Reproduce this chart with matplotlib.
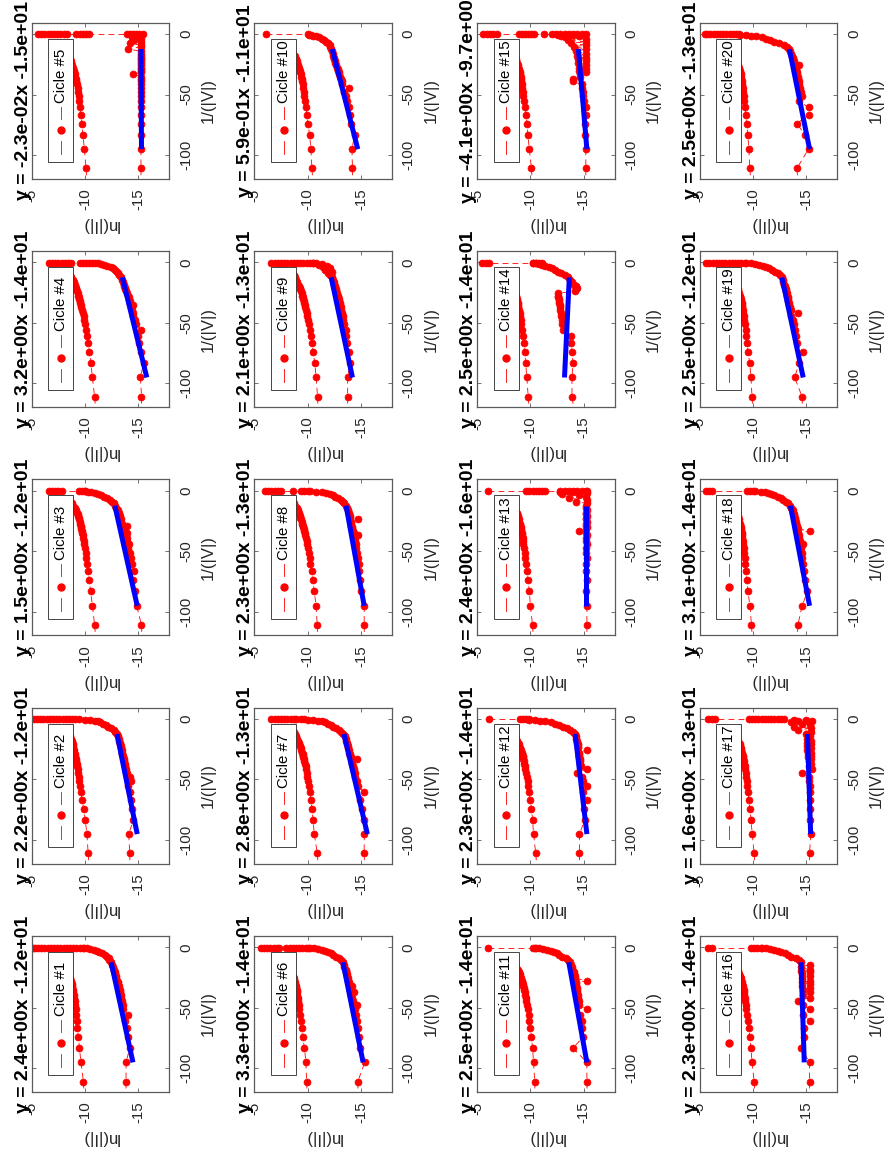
import matplotlib
matplotlib.use('Agg')
import matplotlib.pyplot as plt
from matplotlib.patches import Rectangle
from matplotlib.lines import Line2D

plt.rcParams['font.family'] = ['Liberation Sans', 'DejaVu Sans']
plt.rcParams['axes.unicode_minus'] = False

# ---------------- data ----------------
# x of the original plot: 1/(|V|)   (shared sweep grid)
X_GRID = [-133.3, -111.1, -95.2, -83.3, -74.1, -66.7, -60.6, -55.6, -51.3, -47.6, -44.4,
          -41.7, -39.2, -37.0, -35.1, -33.3, -31.7, -30.3, -29.0, -27.8, -25.6, -23.8,
          -22.2, -20.8, -19.6, -18.5, -16.4, -14.3, -12.3, -10.5]
X_KNEE = [-9.1, -7.7, -6.3, -5.0, -3.8, -2.8, -2.0, -1.4, -0.9, -0.6]
X_TOP = -0.3
FIT_X = [-95.2, -12.4]

TITLES = ["y = 2.4e+00x -1.2e+01", "y = 2.2e+00x -1.2e+01", "y = 1.5e+00x -1.2e+01",
          "y = 3.2e+00x -1.4e+01", "y = -2.3e-02x -1.5e+01", "y = 3.3e+00x -1.4e+01",
          "y = 2.8e+00x -1.3e+01", "y = 2.3e+00x -1.3e+01", "y = 2.1e+00x -1.3e+01",
          "y = 5.9e-01x -1.1e+01", "y = 2.5e+00x -1.4e+01", "y = 2.3e+00x -1.4e+01",
          "y = 2.4e+00x -1.6e+01", "y = 2.5e+00x -1.4e+01", "y = -4.1e+00x -9.7e+00",
          "y = 2.3e+00x -1.4e+01", "y = 1.6e+00x -1.3e+01", "y = 3.1e+00x -1.4e+01",
          "y = 2.5e+00x -1.2e+01", "y = 2.5e+00x -1.3e+01"]

# upper branch ln(|I|) on X_GRID
UP01 = [-10.0, -9.85, -9.62, -9.48, -9.38, -9.29, -9.22, -9.16, -9.11, -9.06, -9.02, -8.98, -8.94, -8.90, -8.86, -8.82, -8.78, -8.74, -8.70, -8.66, -8.58, -8.50, -8.43, -8.36, -8.30, -8.24, -8.10, -7.95, -7.78, -7.60]
UP02 = [-10.45, -10.30, -10.18, -10.02, -9.88, -9.72, -9.62, -9.54, -9.47, -9.41, -9.36, -9.31, -9.26, -9.22, -9.18, -9.14, -9.10, -9.07, -9.04, -9.01, -8.96, -8.92, -8.88, -8.84, -8.80, -8.76, -8.66, -8.55, -8.42, -8.28]
UP03 = [-11.1, -10.90, -10.70, -10.52, -10.40, -10.30, -10.21, -10.13, -10.06, -10.00, -9.94, -9.89, -9.84, -9.79, -9.75, -9.71, -9.67, -9.63, -9.60, -9.57, -9.51, -9.45, -9.40, -9.35, -9.30, -9.25, -9.15, -9.03, -8.90, -8.75]
UP04 = [-11.1, -10.90, -10.70, -10.55, -10.42, -10.30, -10.22, -10.12, -10.02, -9.95, -9.87, -9.80, -9.73, -9.67, -9.61, -9.55, -9.50, -9.45, -9.41, -9.37, -9.30, -9.23, -9.17, -9.12, -9.07, -9.03, -8.94, -8.84, -8.72, -8.60]
UP05 = [-10.25, -10.10, -9.95, -9.80, -9.70, -9.60, -9.53, -9.46, -9.40, -9.35, -9.30, -9.25, -9.20, -9.15, -9.10, -9.05, -9.00, -8.96, -8.92, -8.88, -8.80, -8.73, -8.66, -8.59, -8.53, -8.47, -8.35, -8.20, -8.05, -7.88]
UP06 = [-10.0, -9.90, -9.83, -9.70, -9.52, -9.42, -9.34, -9.27, -9.21, -9.16, -9.11, -9.07, -9.03, -8.99, -8.95, -8.91, -8.87, -8.83, -8.79, -8.75, -8.68, -8.61, -8.54, -8.48, -8.42, -8.36, -8.24, -8.10, -7.95, -7.80]
UP07 = [-11.1, -10.90, -10.62, -10.50, -10.40, -10.30, -10.20, -10.12, -10.05, -9.98, -9.92, -9.86, -9.80, -9.75, -9.70, -9.65, -9.60, -9.56, -9.52, -9.48, -9.41, -9.34, -9.28, -9.22, -9.17, -9.12, -9.02, -8.93, -8.82, -8.70]
UP08 = [-11.05, -10.90, -10.78, -10.62, -10.48, -10.36, -10.26, -10.17, -10.09, -10.02, -9.95, -9.89, -9.83, -9.78, -9.73, -9.68, -9.63, -9.59, -9.55, -9.51, -9.44, -9.37, -9.31, -9.25, -9.20, -9.15, -9.05, -8.95, -8.84, -8.72]
UP09 = [-11.05, -10.92, -10.80, -10.66, -10.52, -10.40, -10.29, -10.20, -10.11, -10.03, -9.96, -9.89, -9.83, -9.77, -9.72, -9.67, -9.62, -9.58, -9.54, -9.50, -9.43, -9.36, -9.30, -9.24, -9.18, -9.13, -9.03, -8.93, -8.82, -8.70]
UP10 = [-10.55, -10.40, -10.30, -10.18, -10.02, -9.93, -9.85, -9.77, -9.70, -9.64, -9.58, -9.52, -9.47, -9.42, -9.38, -9.34, -9.30, -9.26, -9.22, -9.18, -9.10, -9.03, -8.96, -8.90, -8.84, -8.78, -8.66, -8.52, -8.38, -8.22]
UP11 = [-10.5, -10.40, -10.30, -10.20, -10.10, -10.00, -9.91, -9.83, -9.76, -9.69, -9.63, -9.57, -9.52, -9.47, -9.42, -9.37, -9.33, -9.29, -9.25, -9.21, -9.13, -9.05, -8.98, -8.92, -8.86, -8.80, -8.68, -8.55, -8.40, -8.25]
UP12 = [-10.7, -10.50, -10.30, -10.20, -10.10, -9.97, -9.88, -9.80, -9.73, -9.66, -9.60, -9.54, -9.49, -9.44, -9.39, -9.35, -9.31, -9.27, -9.23, -9.19, -9.11, -9.04, -8.97, -8.91, -8.85, -8.79, -8.67, -8.54, -8.40, -8.25]
UP13 = [-10.35, -10.20, -10.00, -9.90, -9.76, -9.66, -9.58, -9.51, -9.45, -9.40, -9.35, -9.30, -9.26, -9.22, -9.18, -9.14, -9.11, -9.08, -9.05, -9.02, -8.96, -8.91, -8.86, -8.81, -8.76, -8.71, -8.60, -8.48, -8.35, -8.20]
UP14 = [-9.95, -9.80, -9.66, -9.56, -9.46, -9.36, -9.28, -9.21, -9.15, -9.09, -9.03, -8.98, -8.93, -8.88, -8.84, -8.80, -8.76, -8.72, -8.68, -8.64, -8.57, -8.50, -8.43, -8.37, -8.31, -8.25, -8.12, -7.98, -7.83, -7.67]
UP15 = [-10.25, -10.10, -9.90, -9.76, -9.68, -9.58, -9.47, -9.40, -9.34, -9.29, -9.24, -9.20, -9.16, -9.12, -9.08, -9.04, -9.00, -8.96, -8.92, -8.88, -8.81, -8.74, -8.67, -8.61, -8.55, -8.49, -8.37, -8.23, -8.08, -7.92]
UP16 = [-10.25, -10.10, -9.90, -9.80, -9.70, -9.60, -9.51, -9.44, -9.38, -9.32, -9.27, -9.22, -9.18, -9.14, -9.10, -9.06, -9.02, -8.98, -8.94, -8.90, -8.83, -8.76, -8.69, -8.63, -8.57, -8.51, -8.39, -8.25, -8.10, -7.94]
UP17 = [-10.25, -10.10, -9.92, -9.80, -9.70, -9.60, -9.52, -9.45, -9.39, -9.34, -9.29, -9.25, -9.21, -9.17, -9.13, -9.09, -9.06, -9.03, -9.00, -8.97, -8.91, -8.85, -8.79, -8.73, -8.67, -8.62, -8.50, -8.37, -8.22, -8.06]
UP18 = [-10.0, -9.85, -9.70, -9.52, -9.42, -9.34, -9.27, -9.21, -9.16, -9.11, -9.07, -9.03, -8.99, -8.96, -8.93, -8.90, -8.87, -8.84, -8.81, -8.78, -8.72, -8.66, -8.60, -8.54, -8.48, -8.43, -8.31, -8.18, -8.03, -7.87]
UP19 = [-10.05, -9.90, -9.80, -9.68, -9.52, -9.44, -9.36, -9.29, -9.23, -9.18, -9.13, -9.08, -9.04, -9.00, -8.96, -8.92, -8.88, -8.84, -8.80, -8.76, -8.69, -8.62, -8.55, -8.49, -8.43, -8.37, -8.25, -8.11, -7.96, -7.80]
UP20 = [-9.85, -9.70, -9.60, -9.50, -9.40, -9.30, -9.23, -9.17, -9.12, -9.07, -9.03, -8.99, -8.95, -8.91, -8.87, -8.83, -8.79, -8.75, -8.71, -8.67, -8.60, -8.53, -8.46, -8.40, -8.34, -8.28, -8.16, -8.02, -7.87, -7.71]

# lower branch ln(|I|) on X_GRID followed by X_KNEE
LO01 = [-13.85, -13.85, -13.85, -14.2, -14.0, -13.9, -13.75, -14.0, -13.6, -13.55, -13.45, -13.4, -13.35, -13.3, -13.25, -13.2, -13.15, -13.1, -13.05, -13.0, -12.95, -12.9, -12.85, -12.8, -12.75, -12.7, -12.6, -12.5, -12.4, -12.25,
        -12.25, -12.05, -11.85, -11.6, -11.35, -11.1, -10.8, -10.5, -10.2, -9.9]
LO02 = [-14.25, -14.2, -14.1, -14.55, -14.4, -14.3, -14.2, -14.05, -14.3, -14.2, -13.95, -13.85, -13.8, -13.75, -13.7, -13.65, -13.6, -13.55, -13.5, -13.5, -13.45, -13.4, -13.35, -13.3, -13.25, -13.2, -13.15, -13.1, -13.0, -12.85,
        -12.7, -12.45, -12.2, -11.95, -11.7, -11.45, -11.2, -10.9, -10.5, -10.0]
LO03 = [-15.4, -15.3, -14.85, -14.7, -14.55, -14.6, -14.4, -14.3, -14.25, -14.05, -14.1, -13.95, -13.9, -13.8, -13.95, -13.7, -13.6, -13.6, -13.9, -13.5, -13.4, -13.35, -13.3, -13.25, -13.2, -13.15, -13.05, -12.95, -12.85, -12.7,
        -12.55, -12.35, -12.1, -11.8, -11.5, -11.2, -10.9, -10.6, -10.3, -10.0]
LO04 = [-15.35, -15.3, -15.2, -15.5, -15.3, -15.1, -14.95, -15.3, -14.75, -14.65, -14.55, -14.5, -14.4, -14.35, -14.5, -14.25, -14.2, -14.15, -14.1, -14.05, -13.95, -13.85, -13.8, -13.75, -13.7, -13.65, -13.55, -13.45, -13.35, -13.15,
        -13.1, -13.0, -12.85, -12.65, -12.4, -12.1, -11.8, -11.5, -11.2, -10.9]
LO05 = [-15.25, -15.25, -15.25, -15.3, -15.25, -15.3, -15.25, -15.3, -15.25, -15.3, -15.25, -15.3, -15.25, -15.3, -15.25, -14.5, -15.25, -15.3, -15.25, -15.3, -15.25, -15.3, -15.25, -15.3, -15.25, -15.3, -15.25, -15.3, -14.0, -15.3,
        -15.3, -14.2, -15.3, -14.6, -15.3, -14.4, -15.2, -14.8, -15.3, -14.5]
LO06 = [-14.75, -14.7, -15.35, -14.95, -14.85, -14.7, -14.65, -14.5, -14.4, -14.6, -14.25, -14.2, -14.1, -14.3, -14.0, -13.95, -14.2, -13.9, -13.85, -13.8, -13.75, -13.7, -13.65, -13.6, -13.6, -13.55, -13.45, -13.4, -13.3, -13.1,
        -12.9, -12.65, -12.4, -12.15, -11.9, -11.6, -11.3, -11.0, -10.6, -10.2]
LO07 = [-15.35, -15.3, -15.3, -15.3, -15.05, -14.9, -15.3, -14.7, -14.6, -14.45, -14.4, -14.3, -14.25, -14.2, -14.15, -14.6, -14.05, -14.0, -13.95, -13.9, -13.85, -13.8, -13.75, -13.7, -13.65, -13.6, -13.55, -13.5, -13.35, -13.15,
        -12.95, -12.7, -12.4, -12.15, -11.9, -11.6, -11.3, -11.0, -10.5, -10.0]
LO08 = [-15.35, -15.3, -15.3, -15.0, -14.95, -14.85, -14.8, -14.7, -14.65, -14.55, -14.5, -14.45, -14.4, -14.7, -14.3, -14.25, -14.2, -14.15, -14.1, -14.1, -14.05, -14.7, -14.0, -13.95, -13.9, -13.85, -13.75, -13.7, -13.6, -13.45,
        -13.3, -13.1, -12.85, -12.6, -12.35, -12.05, -11.7, -11.3, -10.8, -10.2]
LO09 = [-13.75, -13.75, -13.75, -13.95, -13.85, -13.7, -13.55, -13.6, -13.45, -13.35, -13.3, -13.2, -13.15, -13.1, -13.05, -13.0, -12.95, -12.9, -12.85, -12.8, -12.75, -12.7, -12.65, -12.6, -12.55, -12.5, -12.45, -12.35, -12.25, -12.1,
        -11.9, -12.3, -11.6, -12.1, -11.4, -11.8, -11.1, -11.3, -10.8, -10.5]
LO10 = [-14.25, -14.2, -14.15, -14.4, -14.1, -13.95, -13.85, -13.7, -13.55, -13.45, -13.9, -13.25, -13.2, -13.1, -13.05, -12.95, -12.9, -12.85, -12.8, -12.75, -12.7, -12.6, -12.55, -12.5, -12.45, -12.4, -12.35, -12.3, -12.2, -12.05,
        -12.1, -11.9, -11.7, -11.5, -11.3, -11.1, -10.8, -10.5, -10.3, -10.15]
LO11 = [-15.35, -15.3, -15.3, -14.0, -14.95, -14.85, -14.8, -14.7, -15.3, -14.6, -14.55, -14.5, -14.45, -14.4, -14.4, -14.35, -14.3, -14.3, -14.25, -15.3, -14.2, -14.15, -14.1, -14.05, -14.0, -13.95, -13.9, -13.8, -13.7, -13.5,
        -13.3, -13.0, -12.7, -12.45, -12.2, -11.95, -11.6, -11.2, -10.8, -10.4]
LO12 = [-14.6, -14.6, -14.6, -15.1, -15.05, -15.3, -14.95, -15.3, -14.9, -14.85, -14.4, -15.3, -14.75, -14.7, -14.7, -14.65, -14.6, -14.6, -14.55, -14.55, -15.3, -14.5, -14.45, -14.45, -14.4, -14.4, -14.3, -14.25, -14.15, -14.0,
        -13.7, -13.4, -13.05, -12.7, -12.3, -11.9, -11.4, -10.9, -10.4, -9.9]
LO13 = [-15.3, -15.3, -15.3, -15.25, -15.3, -15.2, -15.25, -15.3, -15.2, -15.25, -15.3, -15.2, -15.25, -15.3, -15.2, -14.6, -15.25, -15.3, -15.2, -15.25, -15.3, -15.2, -15.25, -15.3, -15.2, -15.25, -15.3, -15.2, -15.25, -15.3,
        -14.3, -15.3, -13.6, -15.2, -14.6, -13.0, -15.3, -14.0, -12.8, -15.3]
LO14 = [-14.3, -13.9, -13.9, -14.0, -13.9, -13.85, -13.8, -13.05, -13.0, -12.95, -12.9, -12.85, -12.8, -12.78, -12.75, -12.7, -12.68, -12.65, -12.6, -12.58, -12.55, -14.2, -14.3, -14.4, -14.3, -14.1, -13.9, -13.7, -13.5, -13.2,
        -12.9, -12.6, -12.3, -12.0, -11.7, -11.4, -11.1, -10.8, -10.5, -10.2]
LO15 = [-15.2, -15.2, -15.2, -15.15, -15.1, -15.2, -15.2, -15.0, -14.95, -14.9, -14.85, -14.8, -14.0, -14.0, -14.7, -14.65, -15.2, -14.6, -15.2, -14.55, -15.2, -14.5, -15.2, -14.45, -15.2, -14.4, -15.2, -14.3, -15.2, -14.1,
        -15.2, -13.8, -15.2, -13.5, -15.2, -13.2, -14.6, -12.9, -14.0, -12.6]
LO16 = [-15.3, -15.3, -15.3, -14.5, -14.8, -14.75, -15.3, -14.7, -15.3, -14.7, -14.2, -15.3, -14.65, -15.3, -14.65, -15.3, -14.6, -15.3, -14.6, -15.3, -14.55, -15.3, -14.55, -15.3, -14.5, -15.3, -14.5, -15.3, -14.45, -14.3,
        -14.0, -13.6, -13.3, -13.0, -12.6, -12.3, -12.0, -11.6, -11.2, -10.8]
LO17 = [-15.3, -15.3, -15.4, -15.35, -15.35, -15.3, -15.3, -15.3, -15.25, -15.25, -14.6, -15.5, -15.2, -15.45, -15.2, -15.4, -15.15, -15.45, -15.15, -15.4, -15.1, -15.45, -15.1, -15.4, -15.1, -15.45, -15.1, -15.3, -15.0, -15.4,
        -14.2, -15.4, -13.8, -15.3, -14.6, -13.6, -15.5, -14.2, -15.0, -13.8]
LO18 = [-14.1, -14.2, -14.6, -15.1, -14.9, -14.8, -14.7, -14.6, -14.55, -14.5, -14.7, -14.4, -14.35, -14.3, -14.25, -15.3, -14.2, -14.15, -14.1, -14.05, -14.0, -13.95, -13.9, -13.85, -13.8, -13.75, -13.7, -13.6, -13.5, -13.3,
        -13.1, -12.8, -12.6, -12.3, -12.0, -11.7, -11.4, -11.1, -10.7, -10.2]
LO19 = [-14.65, -14.6, -13.9, -14.3, -14.7, -14.1, -14.0, -13.9, -13.8, -13.7, -13.6, -14.2, -13.55, -13.45, -13.4, -13.35, -13.3, -13.3, -13.25, -13.2, -13.15, -13.1, -13.05, -13.0, -12.95, -12.9, -12.85, -12.8, -12.7, -12.55,
        -12.35, -12.05, -11.8, -11.5, -11.2, -10.9, -10.6, -10.2, -9.8, -9.3]
LO20 = [-14.35, -14.1, -15.2, -14.9, -14.1, -15.2, -15.2, -14.3, -14.55, -14.45, -14.4, -14.35, -14.3, -14.25, -14.2, -14.15, -14.1, -14.05, -14.0, -13.95, -14.3, -13.85, -13.8, -13.75, -13.7, -13.65, -13.6, -13.5, -13.4, -13.2,
        -12.9, -12.4, -12.0, -11.6, -11.2, -10.8, -10.3, -9.8, -9.3, -8.8]

# points at the highest |V| (row along 1/(|V|) ~ 0)
TOP01 = [-9.8, -9.5, -9.2, -8.9, -8.6, -8.3, -8.0, -7.7, -7.4, -7.1, -6.8, -6.5, -6.2, -5.9, -5.6, -5.3, -5.1]
TOP02 = [-9.4, -9.1, -8.8, -8.5, -8.2, -7.9, -7.6, -7.3, -7.0, -6.7, -6.4, -6.1, -5.8, -5.5, -5.2]
TOP03 = [-6.6, -6.9, -7.2, -7.5, -7.8, -9.4, -9.7, -10.0]
TOP04 = [-6.6, -6.9, -7.2, -7.5, -7.8, -8.1, -8.4, -8.7, -9.5, -9.8, -10.1, -10.4, -10.7]
TOP05 = [-5.6, -5.9, -6.2, -6.5, -6.8, -7.1, -7.4, -7.7, -8.0, -8.3, -9.2, -9.5, -9.8, -10.1, -10.4, -13.9, -14.2, -14.5, -14.8, -15.1, -15.4]
TOP06 = [-5.6, -5.9, -6.2, -6.5, -6.8, -7.1, -7.3, -8.0, -8.3, -8.6, -8.9, -9.2, -9.5, -9.8, -10.0]
TOP07 = [-6.6, -6.9, -7.2, -7.5, -7.8, -8.1, -8.4, -8.7, -8.9, -9.4, -9.7]
TOP08 = [-6.0, -6.3, -6.6, -6.9, -7.2, -7.5, -8.6, -9.4, -9.7, -10.0]
TOP09 = [-6.6, -6.9, -7.2, -7.5, -7.8, -8.1, -8.4, -8.7, -9.0, -9.3, -9.6, -9.9, -10.2, -10.5]
TOP10 = [-6.1, -10.0]
TOP11 = [-6.0, -10.2, -10.5]
TOP12 = [-6.1, -9.0, -9.3, -9.6, -9.9]
TOP13 = [-6.0, -9.6, -9.9, -10.2, -10.5, -10.8, -11.1, -11.4, -12.8, -13.2, -13.6, -14.0, -14.4, -14.8, -15.2]
TOP14 = [-5.5, -5.8, -6.1, -10.2, -10.5, -10.8, -11.1]
TOP15 = [-5.6, -5.9, -6.2, -6.5, -6.9, -8.9, -9.2, -9.5, -9.8, -10.1, -10.3, -11.3, -12.0, -12.4, -12.8, -13.2, -13.6, -14.0, -14.4, -14.8, -15.2]
TOP16 = [-5.8, -6.1, -9.8, -10.1, -10.4, -10.7]
TOP17 = [-5.8, -6.1, -6.4, -9.6, -9.9, -10.2, -10.5, -10.8, -11.1, -11.4, -11.7, -12.0, -12.3, -12.6, -12.9]
TOP18 = [-5.6, -5.9, -6.1, -9.4, -9.7, -10.0]
TOP19 = [-5.6, -5.9, -6.2, -6.5, -6.8, -7.1, -7.4, -7.7, -8.0, -8.3, -8.6, -8.9, -9.2]
TOP20 = [-5.45, -5.7, -6.0, -6.3, -6.6, -6.9, -7.2, -7.5, -7.8, -8.1, -8.4, -8.7]

# blue fitted line: ln(|I|) at FIT_X ends
FIT_LN = [[-14.5, -12.45], [-14.9, -13.0], [-14.9, -12.8], [-15.8, -13.5], [-15.3, -15.25],
          [-15.2, -13.3], [-15.6, -13.4], [-15.3, -13.6], [-14.2, -12.2], [-14.7, -12.3],
          [-15.3, -13.6], [-15.3, -14.2], [-15.2, -15.2], [-13.2, -13.65], [-15.3, -14.5],
          [-14.8, -14.5], [-15.4, -15.1], [-15.3, -13.5], [-14.7, -12.7], [-15.3, -13.4]]

UPS = [UP01, UP02, UP03, UP04, UP05, UP06, UP07, UP08, UP09, UP10,
       UP11, UP12, UP13, UP14, UP15, UP16, UP17, UP18, UP19, UP20]
LOS = [LO01, LO02, LO03, LO04, LO05, LO06, LO07, LO08, LO09, LO10,
       LO11, LO12, LO13, LO14, LO15, LO16, LO17, LO18, LO19, LO20]
TOPS = [TOP01, TOP02, TOP03, TOP04, TOP05, TOP06, TOP07, TOP08, TOP09, TOP10,
        TOP11, TOP12, TOP13, TOP14, TOP15, TOP16, TOP17, TOP18, TOP19, TOP20]

# ---------------- layout (pixels) ----------------
W, H = 890, 1156
COL_LEFT, COL_PITCH, AX_W = 31.7, 222.7, 137.5
ROW_TOP, ROW_PITCH, AX_H = 22.7, 228.3, 156.0

fig = plt.figure(figsize=(W / 100, H / 100), dpi=100)
fig.patch.set_facecolor('white')

RED = (1, 0, 0)
DASH = (0, (7, 5))
FRAME = '#5a5a5a'
TXT = '#262626'
MS = 5.0

for k in range(20):
    cyc = k + 1
    c = k // 5
    r = 4 - (k % 5)
    left = COL_LEFT + c * COL_PITCH
    top = ROW_TOP + r * ROW_PITCH
    ax = fig.add_axes([left / W, 1 - (top + AX_H) / H, AX_W / W, AX_H / H])

    up = UPS[k]
    lo = LOS[k]
    xs_lo = X_GRID + X_KNEE
    n_up = min(len(up), len(X_GRID))
    n_lo = min(len(lo), len(xs_lo))
    mk = dict(color=RED, lw=0.6, ls=DASH, marker='o', ms=MS, mfc=RED, mec=RED, mew=0.5)
    ax.plot(up[:n_up], X_GRID[:n_up], **mk)
    ax.plot(lo[:n_lo], xs_lo[:n_lo], **mk)
    tp = TOPS[k]
    ax.plot(tp, [X_TOP] * len(tp), **mk)
    ax.plot(FIT_LN[k], FIT_X, color='blue', lw=3.6, solid_capstyle='butt', zorder=5)

    ax.set_xlim(-5, -17.9)
    ax.set_ylim(-119.6, 9.4)
    ax.set_xticks([-5, -10, -15])
    ax.set_yticks([-100, -50, 0])
    ax.yaxis.tick_right()
    ax.tick_params(axis='both', direction='in', length=3, width=0.6, color=FRAME,
                   labelsize=10.8, labelcolor=TXT, top=True, bottom=True, left=True,
                   right=True, labelleft=False, labelright=True, labeltop=False,
                   labelbottom=True)
    ax.tick_params(axis='x', labelrotation=90, pad=7)
    ax.tick_params(axis='y', labelrotation=90, pad=7)
    for lab in ax.get_yticklabels():
        lab.set_va('center')
        lab.set_ha('left')
    for sp in ax.spines.values():
        sp.set_color(FRAME)
        sp.set_linewidth(0.9)

    ax.set_xlabel('ln(|I|)', rotation=180, fontsize=12, color=TXT, labelpad=5)
    ax.yaxis.set_label_position('right')
    ax.set_ylabel('1/(|V|)', rotation=90, fontsize=12, color=TXT, labelpad=5.5)

    ax.text(0, 0.5, TITLES[k], transform=ax.transAxes, rotation=90, ha='right',
            va='center', fontsize=14, fontweight='bold', color='black')

    # legend (rotated, drawn by hand)
    lx0 = 16.6 / AX_W
    lwid = 25.0 / AX_W
    ly0 = 1 - 139.3 / AX_H
    lhei = (139.3 - 16.0) / AX_H
    ax.add_patch(Rectangle((lx0, ly0), lwid, lhei, transform=ax.transAxes,
                           facecolor='white', edgecolor=TXT, lw=0.6, zorder=10,
                           clip_on=False))
    xc = lx0 + lwid / 2
    for a, b in [(8, 21), (43, 55)]:
        ax.add_line(Line2D([xc, xc], [ly0 + a / AX_H, ly0 + b / AX_H], transform=ax.transAxes,
                           color=RED, lw=0.6, zorder=11))
    ax.add_line(Line2D([xc], [ly0 + 32 / AX_H], transform=ax.transAxes, marker='o', ms=MS,
                       mfc=RED, mec=RED, ls='none', zorder=12))
    ax.text(xc, ly0 + 59 / AX_H, 'Cicle #%d' % cyc, transform=ax.transAxes, rotation=90,
            ha='center', va='bottom', fontsize=10.8, color='black', zorder=12)

fig.savefig('out.png', dpi=100, facecolor='white')
